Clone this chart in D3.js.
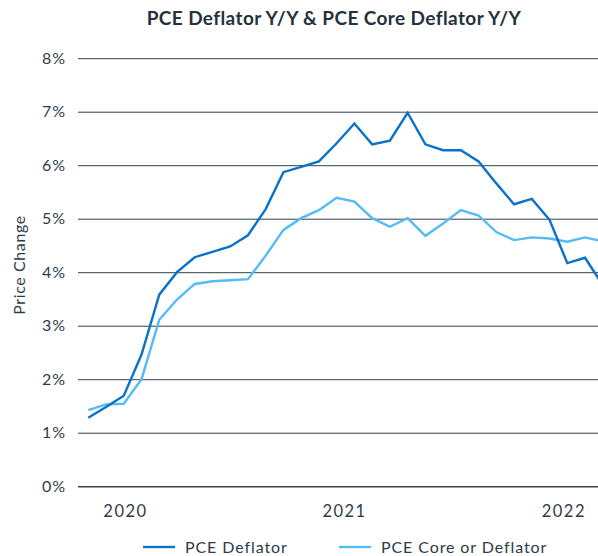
<!DOCTYPE html>
<html>
<head>
<meta charset="utf-8">
<script src="https://cdn.jsdelivr.net/npm/d3@7"></script>
<style>
  body { margin: 0; background: #fff; }
  svg { display: block; font-family: Lato, sans-serif; }
</style>
</head>
<body>
<svg id="chart" width="598" height="556"></svg>
<script>
// valeurs (un point par mois)
var pceDeflator = [1.28, 1.48, 1.69, 2.46, 3.58, 4.0, 4.28, 4.38, 4.48, 4.69, 5.18, 5.87, 5.97, 6.07, 6.41,
                   6.78, 6.39, 6.46, 6.98, 6.39, 6.28, 6.28, 6.07, 5.66, 5.27, 5.37, 4.98, 4.17, 4.27, 3.76];
var pceCore = [1.42, 1.53, 1.54, 2.0, 3.11, 3.49, 3.78, 3.83, 3.85, 3.87, 4.31, 4.79, 5.01, 5.16, 5.39,
               5.32, 5.01, 4.85, 5.01, 4.68, 4.91, 5.16, 5.06, 4.75, 4.6, 4.65, 4.63, 4.57, 4.65, 4.58];
var yTicks = [0, 1, 2, 3, 4, 5, 6, 7, 8];
var yearLabels = ["2020", "2021", "2022"];
var yearAt = [2.05, 14.4, 26.76]; // position des annees en index de mois
var seriesNames = ["PCE Deflator", "PCE Core or Deflator"];
var seriesColors = ["#0a72c8", "#55bbf7"];

var svg = d3.select("#chart");
var textColor = "#2f3b47";

var x = d3.scaleLinear().domain([0, 29]).range([88.3, 88.3 + 29 * 17.74]);
var y = d3.scaleLinear().domain([0, 8]).range([486.2, 58.2]);

// titre
svg.append("text")
    .attr("x", 334)
    .attr("y", 25)
    .attr("text-anchor", "middle")
    .attr("font-size", "19px")
    .attr("font-weight", "700")
    .attr("letter-spacing", "0.4px")
    .attr("fill", "#25313d")
    .text("PCE Deflator Y/Y & PCE Core Deflator Y/Y");

// grille + labels de l'axe y
var yAxis = d3.axisLeft(y)
    .tickValues(yTicks)
    .tickSize(-(620 - 78))
    .tickPadding(12)
    .tickFormat(function(d) { return d + "%"; });

svg.append("g")
    .attr("transform", "translate(78,0)")
    .call(yAxis)
    .call(function(g) {
	g.select(".domain").remove();
	g.selectAll(".tick line")
	    .attr("stroke", "#34404b")
	    .attr("stroke-width", function(d) { return d === 0 ? 1.6 : 1; });
	g.selectAll(".tick text")
	    .attr("fill", textColor)
	    .attr("font-size", "16px")
	    .attr("letter-spacing", "1px")
	    .attr("font-family", "Lato, sans-serif");
    });

// axe x : juste les annees
svg.append("g")
    .selectAll("text")
    .data(yearLabels)
    .enter()
    .append("text")
    .attr("x", function(d, i) { return x(yearAt[i]) + 0.8; })
    .attr("y", 517)
    .attr("text-anchor", "middle")
    .attr("font-size", "16.5px")
    .attr("letter-spacing", "1.5px")
    .attr("fill", textColor)
    .text(function(d) { return d; });

// titre axe y
svg.append("text")
    .attr("transform", "translate(25,265) rotate(-90)")
    .attr("text-anchor", "middle")
    .attr("font-size", "16px")
    .attr("letter-spacing", "0.6px")
    .attr("fill", textColor)
    .text("Price Change");

// les courbes
var line = d3.line()
    .x(function(d, i) { return x(i); })
    .y(function(d) { return y(d); });

[pceCore, pceDeflator].forEach(function(s, k) {
    svg.append("path")
	.datum(s)
	.attr("fill", "none")
	.attr("stroke", seriesColors[1 - k])
	.attr("stroke-width", 2.4)
	.attr("stroke-linejoin", "miter")
	.attr("d", line);
});

// legende
var legendX = [143, 339];
var legend = svg.append("g")
    .selectAll("g")
    .data(seriesNames)
    .enter()
    .append("g")
    .attr("transform", function(d, i) { return "translate(" + legendX[i] + ",547)"; });

legend.append("line")
    .attr("x1", 0)
    .attr("x2", 32)
    .attr("stroke", function(d, i) { return seriesColors[i]; })
    .attr("stroke-width", 2.4);

legend.append("text")
    .attr("x", 42)
    .attr("y", 6)
    .attr("font-size", "16px")
    .attr("letter-spacing", "0.9px")
    .attr("fill", textColor)
    .text(function(d) { return d; });
</script>
</body>
</html>
